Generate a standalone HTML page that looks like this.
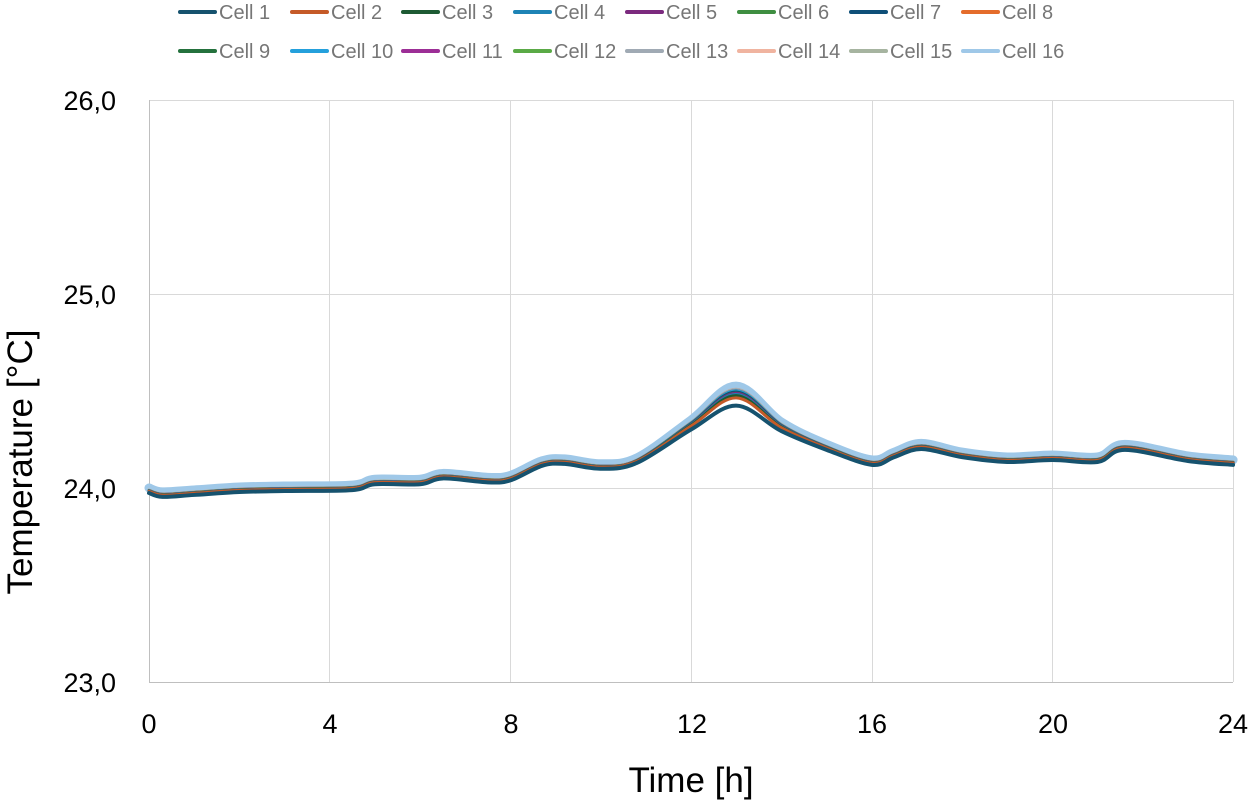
<!DOCTYPE html>
<html><head><meta charset="utf-8"><style>
html,body{margin:0;padding:0;background:#fff;}
svg{display:block;font-family:"Liberation Sans",sans-serif;}
</style></head><body>
<svg id="s" width="1255" height="804" xmlns="http://www.w3.org/2000/svg">
<rect width="1255" height="804" fill="#fff"/>
<g stroke="#d9d9d9" stroke-width="1">
<line x1="149" y1="100.5" x2="1233" y2="100.5"/>
<line x1="149" y1="294.5" x2="1233" y2="294.5"/>
<line x1="149" y1="488.5" x2="1233" y2="488.5"/>
<line x1="329.5" y1="100" x2="329.5" y2="682"/>
<line x1="510.5" y1="100" x2="510.5" y2="682"/>
<line x1="691.5" y1="100" x2="691.5" y2="682"/>
<line x1="872.5" y1="100" x2="872.5" y2="682"/>
<line x1="1052.5" y1="100" x2="1052.5" y2="682"/>
<line x1="1233.5" y1="100" x2="1233.5" y2="682"/>
</g>
<line x1="149.5" y1="100" x2="149.5" y2="682" stroke="#bfbfbf"/>
<line x1="149" y1="682.5" x2="1233" y2="682.5" stroke="#bfbfbf"/>
<g font-size="27" fill="#000" text-anchor="end">
<text x="116" y="110">26,0</text>
<text x="116" y="304">25,0</text>
<text x="116" y="498">24,0</text>
<text x="116" y="692">23,0</text>
</g>
<g font-size="27" fill="#000" text-anchor="middle">
<text x="149" y="733">0</text><text x="330" y="733">4</text><text x="511" y="733">8</text>
<text x="692" y="733">12</text><text x="872" y="733">16</text><text x="1053" y="733">20</text><text x="1233" y="733">24</text>
</g>
<text x="691" y="792" font-size="35" text-anchor="middle">Time [h]</text>
<text transform="translate(32,462) rotate(-90)" font-size="35" text-anchor="middle">Temperature [°C]</text>
<g id="curves"></g>
<g id="leg" font-size="20" fill="#767676"></g>
</svg>
<script>
var P=[[0,24.0],[0.3,23.98],[1,23.99],[2,24.005],[3,24.01],[4.5,24.015],[5,24.045],[6,24.045],[6.5,24.075],[7.5,24.055],[8,24.065],[8.7,24.14],[9.2,24.15],[10,24.125],[10.8,24.155],[12,24.35],[13,24.525],[14,24.34],[15,24.225],[16,24.145],[16.5,24.185],[17.1,24.23],[18,24.185],[19,24.16],[20,24.17],[21,24.16],[21.6,24.225],[23,24.165],[24,24.145]];
function X(t){return 149+t*45.17;}function Y(v){return 488-(v-24)*194;}
function path(off,peakScale){
 var pts=P.map(function(p){var v=p[1];var d=v-24;var k=1-(1-peakScale)*Math.max(0,(v-24.2)/0.32);return [X(p[0]),Y(24+d*k)+off];});
 var d="M"+pts[0][0]+","+pts[0][1];
 for(var i=0;i<pts.length-1;i++){var p0=pts[i-1]||pts[i],p1=pts[i],p2=pts[i+1],p3=pts[i+2]||p2;
  d+=" C"+(p1[0]+(p2[0]-p0[0])/6)+","+(p1[1]+(p2[1]-p0[1])/6)+" "+(p2[0]-(p3[0]-p1[0])/6)+","+(p2[1]-(p3[1]-p1[1])/6)+" "+p2[0]+","+p2[1];}
 return d;}
var series=[["#16526e",0.86],["#c55a28",0.92],["#1d5a33",0.94],["#1d83b5",0.95],["#7b2a7e",0.96],["#3e8e41",0.96],["#0e4f78",0.97],["#e46c2b",0.93],["#24713d",0.97],["#24a0dc",0.98],["#9c2e96",0.98],["#5aaa46",0.98],["#a0aab4",0.99],["#f0b4a0",0.99],["#a6b4a0",0.99],["#9fc8e8",1.0]];
var g=document.getElementById("curves"),h="";
h+='<path d="'+path(0,1.0)+'" fill="none" stroke="#9fc8e8" stroke-width="9" stroke-linejoin="round" stroke-linecap="round"/>';
for(var i=14;i>=0;i--){var s=series[i];var off=2+(15-i)*0.1+(i==0?1.5:0);
 h+='<path d="'+path(off,s[1])+'" fill="none" stroke="'+s[0]+'" stroke-width="'+(i==0?4:3)+'" stroke-linejoin="round" stroke-linecap="round"/>';}
g.innerHTML=h;
var L=document.getElementById("leg"),lh="";
var xs=[180,292,403,515,627,739,851,963];
for(var i=0;i<16;i++){var r=i<8?0:1,c=i%8;var x=xs[c];var y=r?51:12;
 lh+='<line x1="'+x+'" y1="'+y+'" x2="'+(x+35)+'" y2="'+y+'" stroke="'+series[i][0]+'" stroke-width="4" stroke-linecap="round"/>';
 lh+='<text x="'+(x+39)+'" y="'+(y+7)+'">Cell '+(i+1)+'</text>';}
L.innerHTML=lh;
</script>
</body></html>
